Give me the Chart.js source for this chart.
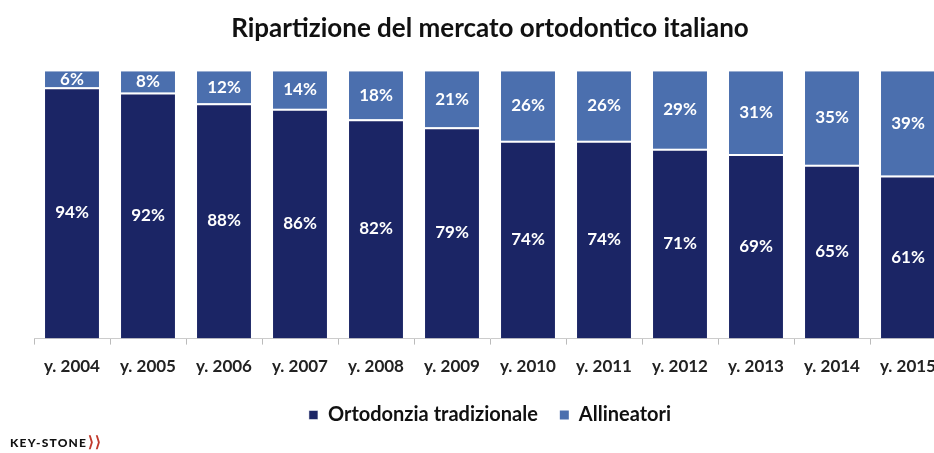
<!DOCTYPE html>
<html>
<head>
<meta charset="utf-8">
<script src="https://cdn.jsdelivr.net/npm/chart.js@4"></script>
<style>
    html, body { margin: 0; padding: 0; background: #fff; overflow: hidden; }
    #wrap { position: relative; width: 934px; height: 453px; overflow: hidden; }
    #box { position: absolute; left: 0; top: 0; width: 962px; height: 453px; }
    #logo { position: absolute; left: 10px; top: 432px; font: 900 12px Lato, sans-serif; color: #111; letter-spacing: 1.2px; }
    #logo span { color: #c0392b; font-size: 15px; margin-left: 1px; }
</style>
</head>
<body>
<div id="wrap">
    <div id="box"><canvas id="grafico"></canvas></div>
    <div id="logo">KEY-STONE<span>⟩⟩</span></div>
</div>
<script>
// dati
const anni = ['y. 2004', 'y. 2005', 'y. 2006', 'y. 2007', 'y. 2008', 'y. 2009',
    'y. 2010', 'y. 2011', 'y. 2012', 'y. 2013', 'y. 2014', 'y. 2015'];
const tradizionale = [94, 92, 88, 86, 82, 79, 74, 74, 71, 69, 65, 61];
const allineatori = [6, 8, 12, 14, 18, 21, 26, 26, 29, 31, 35, 39];

const coloreScuro = '#1b2565';
const coloreChiaro = '#4b6fae';

// etichette bianche al centro di ogni segmento
const etichette = {
    id: 'etichette',
    afterDatasetsDraw(chart) {
        const ctx = chart.ctx;
        ctx.save();
        ctx.fillStyle = '#fff';
        ctx.font = 'bold 17px Lato, sans-serif';
        ctx.textAlign = 'center';
        ctx.textBaseline = 'middle';
        chart.data.datasets.forEach((ds, i) => {
            chart.getDatasetMeta(i).data.forEach((bar, j) => {
                const p = bar.getProps(['x', 'y', 'base'], true);
                ctx.fillText(ds.data[j] + '%', p.x, (p.y + p.base) / 2);
            });
        });
        ctx.restore();
    }
};

const config = {
    type: 'bar',
    data: {
        labels: anni,
        datasets: [{
            label: 'Ortodonzia tradizionale',
            data: tradizionale,
            backgroundColor: coloreScuro,
            borderColor: '#fff',
            borderWidth: { top: 2, left: 0, right: 0, bottom: 0 },
            borderSkipped: false,
            barPercentage: 0.71,
            categoryPercentage: 1
        }, {
            label: 'Allineatori',
            data: allineatori,
            backgroundColor: coloreChiaro,
            barPercentage: 0.71,
            categoryPercentage: 1
        }]
    },
    options: {
        responsive: true,
        maintainAspectRatio: false,
        animation: false,
        layout: { padding: { left: 34, right: 16, top: 0, bottom: 18 } },
        plugins: {
            title: {
                display: true,
                text: 'Ripartizione del mercato ortodontico italiano',
                color: '#111',
                font: { family: 'Lato', size: 26, weight: 'bold' },
                padding: { top: 13, bottom: 27 }
            },
            legend: {
                position: 'bottom',
                labels: {
                    color: '#111',
                    boxWidth: 9,
                    boxHeight: 9,
                    padding: 22,
                    font: { family: 'Lato', size: 20, weight: 'bold' }
                }
            },
            tooltip: { enabled: false }
        },
        scales: {
            x: {
                stacked: true,
                afterFit(scale) { scale.height -= 6; },
                grid: { display: true, drawOnChartArea: false, tickLength: 6, color: '#bbb' },
                border: { color: '#ccc' },
                ticks: {
                    color: '#222',
                    padding: 12,
                    font: { family: 'Lato', size: 17, weight: 'bold' }
                }
            },
            y: {
                stacked: true,
                display: false,
                min: 0,
                max: 100
            }
        }
    },
    plugins: [etichette]
};

new Chart(document.getElementById('grafico').getContext('2d'), config);
</script>
</body>
</html>
